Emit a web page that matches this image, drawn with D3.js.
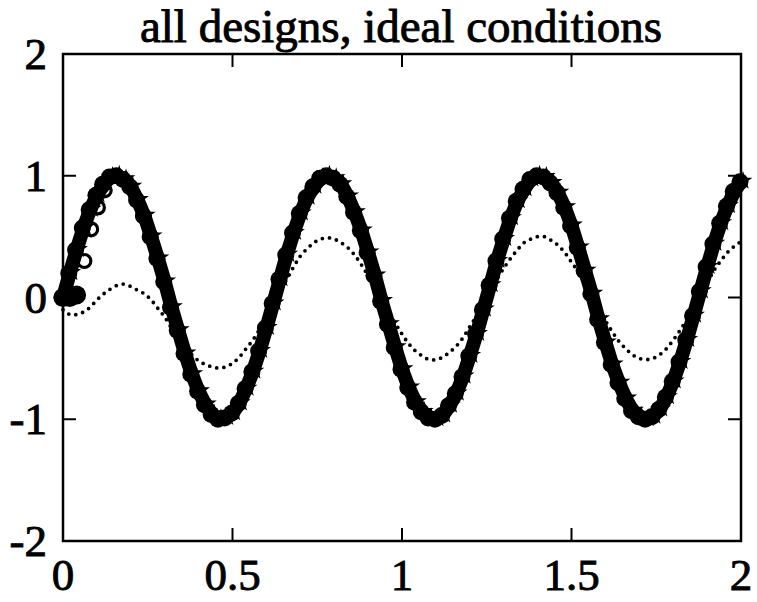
<!DOCTYPE html>
<html>
<head>
<meta charset="utf-8">
<script src="https://cdn.jsdelivr.net/npm/d3@7"></script>
<style>
  html, body { margin: 0; padding: 0; background: #fff; }
  svg { display: block; }
  text { font-family: "Liberation Serif", "Times New Roman", serif; fill: #000; stroke: #000; stroke-width: 0.9px; }
</style>
</head>
<body>
<svg id="chart" width="757" height="602"></svg>
<script>
// Time samples (s), step 0.02
const time = d3.range(0, 101).map(i => +(i * 0.02).toFixed(2));

// Response shared by all designs (they overlay one another)
const allDesigns = [
  0, 0.20, 0.39, 0.57, 0.72, 0.84, 0.93, 0.99, 1.00, 0.97,
  0.91, 0.80, 0.67, 0.50, 0.32, 0.13, -0.08, -0.27, -0.46, -0.63,
  -0.77, -0.88, -0.96, -1.00, -0.99, -0.95, -0.87, -0.75, -0.61, -0.44,
  -0.25, -0.05, 0.15, 0.35, 0.53, 0.69, 0.82, 0.91, 0.98, 1.00,
  0.98, 0.93, 0.83, 0.70, 0.55, 0.37, 0.18, -0.03, -0.22, -0.41,
  -0.59, -0.74, -0.86, -0.94, -0.99, -1.00, -0.97, -0.89, -0.79, -0.65,
  -0.48, -0.30, -0.10, 0.10, 0.30, 0.48, 0.65, 0.79, 0.89, 0.97,
  1.00, 0.99, 0.94, 0.86, 0.74, 0.59, 0.41, 0.22, 0.03, -0.18,
  -0.37, -0.55, -0.70, -0.83, -0.93, -0.98, -1.00, -0.98, -0.92, -0.82,
  -0.69, -0.53, -0.35, -0.15, 0.05, 0.25, 0.44, 0.61, 0.75, 0.87,
  0.95
];

// Design that holds at zero for the first samples before catching up
const delayedTime = [0, 0.02, 0.04, 0.06, 0.08, 0.10, 0.12];
const delayedDesign = [0, 0, 0.02, 0.30, 0.56, 0.74, 0.88];

// Reference (dotted) signal
const reference = [
  -0.10, -0.14, -0.14, -0.12, -0.08, -0.02, 0.03, 0.07, 0.10, 0.11,
  0.09, 0.06, 0.03, -0.02, -0.09, -0.16, -0.25, -0.33, -0.41, -0.47,
  -0.52, -0.55, -0.57, -0.58, -0.57, -0.54, -0.49, -0.42, -0.35, -0.26,
  -0.16, -0.06, 0.05, 0.15, 0.25, 0.34, 0.40, 0.45, 0.48, 0.49,
  0.48, 0.45, 0.41, 0.35, 0.27, 0.18, 0.09, -0.01, -0.11, -0.21,
  -0.30, -0.38, -0.44, -0.48, -0.51, -0.51, -0.49, -0.45, -0.40, -0.33,
  -0.24, -0.15, -0.05, 0.05, 0.15, 0.24, 0.32, 0.39, 0.45, 0.48,
  0.50, 0.50, 0.47, 0.43, 0.37, 0.29, 0.21, 0.11, 0.01, -0.09,
  -0.19, -0.28, -0.36, -0.42, -0.47, -0.50, -0.51, -0.50, -0.47, -0.42,
  -0.35, -0.27, -0.18, -0.08, 0.02, 0.12, 0.22, 0.30, 0.37, 0.42,
  0.46
];

const xTicks = [0, 0.5, 1, 1.5, 2];
const xTickLabels = ["0", "0.5", "1", "1.5", "2"];
const yTicks = [-2, -1, 0, 1, 2];
const yTickLabels = ["-2", "-1", "0", "1", "2"];
const titleText = "all designs, ideal conditions";

const mLeft = 63, mRight = 741, mTop = 54, mBottom = 541;
const svg = d3.select("#chart");

const x = d3.scaleLinear().domain([0, 2]).range([mLeft, mRight]);
const y = d3.scaleLinear().domain([-2, 2]).range([mBottom, mTop]);

const plot = svg.append("g");

// Dotted reference line
plot.append("path")
  .datum(time.map((t, i) => [t, reference[i]]))
  .attr("fill", "none")
  .attr("stroke", "#000")
  .attr("stroke-width", 3.8)
  .attr("stroke-linecap", "round")
  .attr("stroke-dasharray", "0,7.2")
  .attr("d", d3.line().x(d => x(d[0])).y(d => y(d[1])).curve(d3.curveCatmullRom));

// Overlaid design responses: thick line plus stacked markers
const mainPts = time.map((t, i) => [t, allDesigns[i]]);
plot.append("path")
  .datum(mainPts)
  .attr("fill", "none")
  .attr("stroke", "#000")
  .attr("stroke-width", 14)
  .attr("stroke-linejoin", "round")
  .attr("d", d3.line().x(d => x(d[0])).y(d => y(d[1])));

plot.selectAll("circle.m")
  .data(mainPts)
  .join("circle")
  .attr("class", "m")
  .attr("cx", d => x(d[0]) - 1)
  .attr("cy", d => y(d[1]))
  .attr("r", 8.5)
  .attr("fill", "#000");

const star = d3.symbol().type(d3.symbolStar).size(110);
plot.selectAll("path.s")
  .data(mainPts)
  .join("path")
  .attr("class", "s")
  .attr("transform", d => `translate(${x(d[0]) + 2},${y(d[1]) - 1})`)
  .attr("d", star)
  .attr("fill", "#000");

// Held-at-zero design: filled blob at start, open circles while catching up
const delayedPts = delayedTime.map((t, i) => [t, delayedDesign[i]]);
plot.selectAll("circle.d0")
  .data(delayedPts.filter(d => d[1] < 0.1))
  .join("circle")
  .attr("class", "d0")
  .attr("cx", d => x(d[0]))
  .attr("cy", d => y(d[1]))
  .attr("r", 9.5)
  .attr("fill", "#000");

plot.selectAll("circle.d1")
  .data(delayedPts.filter(d => d[1] >= 0.1))
  .join("circle")
  .attr("class", "d1")
  .attr("cx", d => x(d[0]) + 1)
  .attr("cy", d => y(d[1]))
  .attr("r", 6.5)
  .attr("fill", "none")
  .attr("stroke", "#000")
  .attr("stroke-width", 3.2);

// Axes box with inward ticks on all four sides
const axes = svg.append("g");
axes.append("rect")
  .attr("x", mLeft).attr("y", mTop)
  .attr("width", mRight - mLeft).attr("height", mBottom - mTop)
  .attr("fill", "none").attr("stroke", "#000").attr("stroke-width", 2.5);

const tickLen = 13;
axes.selectAll("line.xb").data(xTicks.slice(1, -1)).join("line")
  .attr("x1", d => x(d)).attr("x2", d => x(d))
  .attr("y1", mBottom).attr("y2", mBottom - tickLen)
  .attr("stroke", "#000").attr("stroke-width", 2);
axes.selectAll("line.xt").data(xTicks.slice(1, -1)).join("line")
  .attr("x1", d => x(d)).attr("x2", d => x(d))
  .attr("y1", mTop).attr("y2", mTop + tickLen)
  .attr("stroke", "#000").attr("stroke-width", 2);
axes.selectAll("line.yl").data(yTicks.slice(1, -1)).join("line")
  .attr("x1", mLeft).attr("x2", mLeft + tickLen)
  .attr("y1", d => y(d)).attr("y2", d => y(d))
  .attr("stroke", "#000").attr("stroke-width", 2);
axes.selectAll("line.yr").data(yTicks.slice(1, -1)).join("line")
  .attr("x1", mRight).attr("x2", mRight - tickLen)
  .attr("y1", d => y(d)).attr("y2", d => y(d))
  .attr("stroke", "#000").attr("stroke-width", 2);

// Tick labels
axes.selectAll("text.xl").data(xTicks).join("text")
  .attr("x", d => x(d)).attr("y", 590)
  .attr("text-anchor", "middle")
  .attr("font-size", 45)
  .text((d, i) => xTickLabels[i]);
axes.selectAll("text.yl").data(yTicks).join("text")
  .attr("x", 47).attr("y", d => y(d) + 15)
  .attr("text-anchor", "end")
  .attr("font-size", 45)
  .text((d, i) => yTickLabels[i]);

// Title
svg.append("text")
  .attr("x", 401).attr("y", 42)
  .attr("text-anchor", "middle")
  .attr("font-size", 47)
  .text(titleText);
</script>
</body>
</html>
